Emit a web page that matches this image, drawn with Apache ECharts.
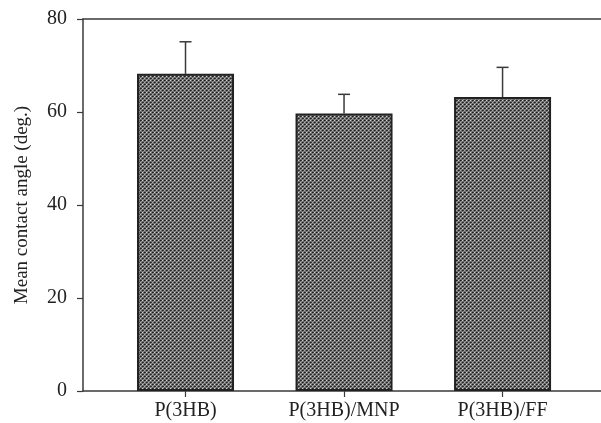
<!DOCTYPE html>
<html>
<head>
<meta charset="utf-8">
<script src="https://cdn.jsdelivr.net/npm/echarts@6/dist/echarts.min.js"></script>
<style>
  html, body { margin: 0; padding: 0; background: #fff; }
  #chart { width: 601px; height: 423px; }
</style>
</head>
<body>
<div id="chart"></div>
<script>
// Sample groups and their measured mean contact angles (degrees)
const categories = ['P(3HB)', 'P(3HB)/MNP', 'P(3HB)/FF'];
const meanAngle = [68.2, 59.7, 63.2];
const stdDev = [6.9, 4.1, 6.4];
const yTicks = [0, 20, 40, 60, 80];

// Checkered fill used for the bars
function makeChecker() {
  const c = document.createElement('canvas');
  c.width = 4; c.height = 4;
  const g = c.getContext('2d');
  g.fillStyle = '#6e6e6e';
  g.fillRect(0, 0, 4, 4);
  const px = (x, y, col) => { g.fillStyle = col; g.fillRect(x, y, 1, 1); };
  px(0, 0, '#1f1f1f'); px(1, 0, '#3a3a3a');
  px(2, 0, '#d4d4d4');
  px(0, 2, '#b4b4b4');
  px(2, 2, '#222222'); px(3, 2, '#3c3c3c');
  px(1, 1, '#8e8e8e'); px(3, 3, '#8e8e8e');
  return c;
}
const checker = makeChecker();

const positions = categories.map((_, i) => i + 1);
const barData = positions.map((p, i) => [p, meanAngle[i]]);
const errData = positions.map((p, i) => [p, meanAngle[i], meanAngle[i] + stdDev[i]]);

const font = '"Liberation Serif", "DejaVu Serif", serif';
const axisColor = '#3a3a3a';

const chart = echarts.init(document.getElementById('chart'), null, { renderer: 'canvas' });
chart.setOption({
  animation: false,
  grid: { left: 83, right: 0, top: 19, bottom: 32 },
  xAxis: [{
    type: 'value',
    min: 0.3533,
    max: 3.621,
    splitLine: { show: false },
    axisLine: { show: true, onZero: false, lineStyle: { color: axisColor, width: 1.5 } },
    axisTick: { show: true, customValues: positions, length: 6, lineStyle: { color: axisColor, width: 1.2 } },
    axisLabel: {
      customValues: positions,
      formatter: v => categories[Math.round(v) - 1] || '',
      margin: 10,
      fontFamily: font, fontSize: 20, color: '#222'
    }
  }, {
    type: 'value',
    position: 'top',
    min: 0.3533,
    max: 3.621,
    splitLine: { show: false },
    axisLine: { show: true, onZero: false, lineStyle: { color: axisColor, width: 1.5 } },
    axisTick: { show: false },
    axisLabel: { show: false }
  }],
  yAxis: {
    type: 'value',
    min: yTicks[0],
    max: yTicks[yTicks.length - 1],
    interval: 20,
    splitLine: { show: false },
    axisLine: { show: true, lineStyle: { color: axisColor, width: 1.5 } },
    axisTick: { show: true, length: 6, lineStyle: { color: axisColor, width: 1.2 } },
    axisLabel: { margin: 16, fontFamily: font, fontSize: 20, color: '#222' },
    name: 'Mean contact angle (deg.)',
    nameLocation: 'middle',
    nameGap: 51,
    nameTextStyle: { fontFamily: font, fontSize: 19, color: '#222' }
  },
  series: [{
    type: 'bar',
    xAxisIndex: 0,
    data: barData,
    barWidth: 97,
    itemStyle: {
      color: { image: checker, repeat: 'repeat' },
      borderColor: '#222',
      borderWidth: 2
    }
  }, {
    type: 'custom',
    xAxisIndex: 0,
    data: errData,
    z: 1,
    renderItem: (params, api) => {
      const base = api.coord([api.value(0), api.value(1)]);
      const top = api.coord([api.value(0), api.value(2)]);
      const half = 6;
      const style = { stroke: '#3a3a3a', lineWidth: 1.5 };
      return {
        type: 'group',
        children: [
          { type: 'line', shape: { x1: base[0], y1: base[1], x2: top[0], y2: top[1] }, style },
          { type: 'line', shape: { x1: top[0] - half, y1: top[1], x2: top[0] + half, y2: top[1] }, style }
        ]
      };
    }
  }]
});
</script>
</body>
</html>
